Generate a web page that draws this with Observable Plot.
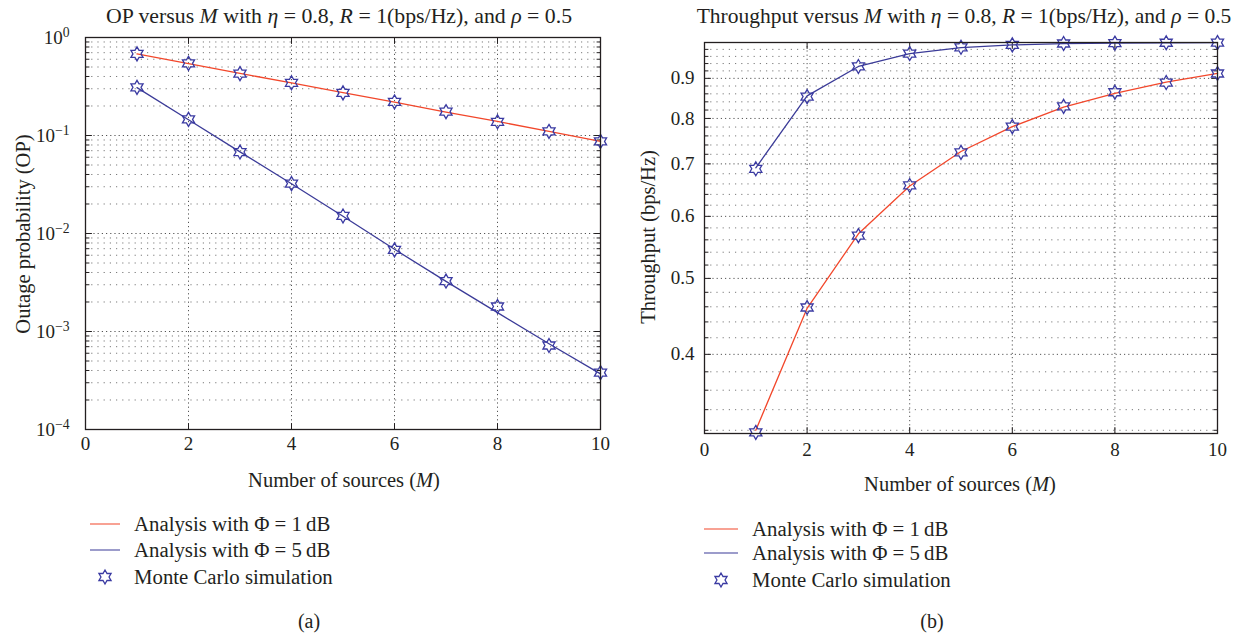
<!DOCTYPE html>
<html>
<head>
<meta charset="utf-8">
<script src="https://cdn.jsdelivr.net/npm/d3@7"></script>
<script src="https://cdn.jsdelivr.net/npm/@observablehq/plot@0.6"></script>
<style>
  html,body{margin:0;padding:0;background:#fff;}
  #root{position:relative;width:1237px;height:636px;overflow:hidden;font-family:"Liberation Serif","Times New Roman",serif;color:#231f20;}
  .t{position:absolute;white-space:nowrap;line-height:1;transform:translate(-50%,-50%);}
  .l{position:absolute;white-space:nowrap;line-height:1;transform:translateY(-50%);}
  .chart{position:absolute;top:0;}
  .swatch{position:absolute;height:0;transform:translateY(-50%);}
</style>
</head>
<body>
<div id="root">
  <div id="chartA" class="chart" style="left:0"></div>
  <div id="chartB" class="chart" style="left:620px"></div>
</div>
<script>
// ---------- data ----------
const M = [1, 2, 3, 4, 5, 6, 7, 8, 9, 10];
// (a) outage probability
const opAnalysis1dB = [0.679, 0.542, 0.430, 0.344, 0.274, 0.219, 0.173, 0.139, 0.110, 0.087];
const opAnalysis5dB = [0.308, 0.145, 0.0680, 0.0322, 0.0150, 0.0069, 0.00325, 0.00156, 0.00075, 0.00037];
const opSim1dB      = [0.680, 0.545, 0.428, 0.345, 0.272, 0.220, 0.175, 0.138, 0.110, 0.087];
const opSim5dB      = [0.310, 0.146, 0.0678, 0.0323, 0.0151, 0.0068, 0.00327, 0.00180, 0.00072, 0.00038];
// (b) throughput
const thAnalysis1dB = [0.320, 0.458, 0.570, 0.656, 0.726, 0.781, 0.827, 0.861, 0.890, 0.913];
const thAnalysis5dB = [0.692, 0.855, 0.932, 0.968, 0.985, 0.993, 0.9967, 0.9984, 0.9992, 0.9996];
const thSim1dB      = [0.318, 0.459, 0.567, 0.657, 0.724, 0.781, 0.829, 0.864, 0.889, 0.913];
const thSim5dB      = [0.690, 0.853, 0.932, 0.968, 0.986, 0.993, 0.997, 0.998, 0.9993, 0.9996];
// ticks
const xTicks = [0, 2, 4, 6, 8, 10];
const xGrid = [2, 4, 6, 8];
const opTicks = [1e-4, 1e-3, 1e-2, 1e-1, 1];
const opMinor = [1e-4, 1e-3, 1e-2, 1e-1].flatMap(d => [2,3,4,5,6,7,8,9].map(k => k * d));
const thTicks = [0.4, 0.5, 0.6, 0.7, 0.8, 0.9];
const thMinor = [0.32,0.34,0.36,0.38,0.42,0.44,0.46,0.48,0.52,0.54,0.56,0.58,0.62,0.64,0.66,0.68,0.72,0.74,0.76,0.78,0.82,0.84,0.86,0.88,0.92,0.94,0.96,0.98];
const legendLabels = ["Analysis with Φ = 1\u2009dB", "Analysis with Φ = 5\u2009dB", "Monte Carlo simulation"];

// ---------- styles ----------
const RED = "#f2472b", BLUE = "#3b3b98", STAR = "#3a3aa2", INK = "#231f20";
const FONT = "'Liberation Serif','Times New Roman',serif";

const hexagram = {
  draw(context, size) {
    const R = Math.sqrt(size / Math.PI), r = R / Math.sqrt(3);
    for (let i = 0; i < 12; i++) {
      const a = Math.PI / 6 * i - Math.PI / 2, rr = i % 2 ? r : R;
      const x = rr * Math.cos(a), y = rr * Math.sin(a);
      i ? context.lineTo(x, y) : context.moveTo(x, y);
    }
    context.closePath();
  }
};
const tickShape = { draw(context, l) { context.moveTo(0, 0); context.lineTo(0, -l); } };

function frameTicks(x0, x1, y0, y1, yMajor, yMinor) {
  const st = { stroke: INK, strokeWidth: 1, shape: tickShape, anchor: "start" };
  const marks = [];
  for (const [xv, rot] of [[x0, 90], [x1, -90]]) {
    marks.push(Plot.vector(yMajor, { x: () => xv, y: d => d, length: 6, rotate: rot, ...st }));
    marks.push(Plot.vector(yMinor, { x: () => xv, y: d => d, length: 3.5, rotate: rot, ...st }));
  }
  for (const [yv, rot] of [[y0, 0], [y1, 180]]) {
    marks.push(Plot.vector(xGrid, { x: d => d, y: () => yv, length: 6, rotate: rot, ...st }));
  }
  return marks;
}
const rows = (ys) => M.map((m, i) => ({ m, v: ys[i] }));

function chart({ width, height, margins, yDomain, yMajor, yMinor, yFmt, yPad, xPad, analysis, sims }) {
  return Plot.plot({
    width, height, ...margins,
    style: { fontFamily: FONT, fontSize: "19px", color: INK, background: "transparent", overflow: "visible" },
    x: { domain: [0, 10], label: null },
    y: { type: "log", domain: yDomain, label: null },
    marks: [
      Plot.ruleY(yMinor, { stroke: "#7a7a7a", strokeWidth: 1, strokeDasharray: "1.2,5" }),
      Plot.ruleY(yMajor, { stroke: "#555", strokeWidth: 1, strokeDasharray: "1.2,3" }),
      Plot.ruleX(xGrid, { stroke: "#555", strokeWidth: 1, strokeDasharray: "1.2,3" }),
      ...frameTicks(0, 10, yDomain[0], yDomain[1], yMajor, yMinor),
      Plot.line(rows(analysis[0]), { x: "m", y: "v", stroke: RED, strokeWidth: 1.3 }),
      Plot.line(rows(analysis[1]), { x: "m", y: "v", stroke: BLUE, strokeWidth: 1.3 }),
      Plot.dot(rows(sims[0]), { x: "m", y: "v", symbol: hexagram, r: 7, stroke: STAR, strokeWidth: 1.3, fill: "none" }),
      Plot.dot(rows(sims[1]), { x: "m", y: "v", symbol: hexagram, r: 7, stroke: STAR, strokeWidth: 1.3, fill: "none" }),
      Plot.axisX({ ticks: xTicks, tickSize: 0, tickPadding: xPad, tickFormat: d => String(d), label: null }),
      Plot.axisY({ ticks: yMajor, tickSize: 0, tickPadding: yPad, tickFormat: yFmt, label: null }),
      Plot.frame({ stroke: INK, strokeWidth: 1.3 })
    ]
  });
}

const svgA = chart({
  width: 620, height: 460,
  margins: { marginLeft: 85, marginRight: 20, marginTop: 37, marginBottom: 31 },
  yDomain: [1e-4, 1], yMajor: opTicks, yMinor: opMinor,
  yFmt: d => "10^" + Math.round(Math.log10(d)), yPad: 16, xPad: 7,
  analysis: [opAnalysis1dB, opAnalysis5dB], sims: [opSim1dB, opSim5dB]
});
const svgB = chart({
  width: 617, height: 465,
  margins: { marginLeft: 84, marginRight: 20, marginTop: 42, marginBottom: 32 },
  yDomain: [0.317, 1], yMajor: thTicks, yMinor: thMinor,
  yFmt: d => d.toFixed(1), yPad: 10, xPad: 9,
  analysis: [thAnalysis1dB, thAnalysis5dB], sims: [thSim1dB, thSim5dB]
});
document.getElementById("chartA").appendChild(svgA);
document.getElementById("chartB").appendChild(svgB);

// superscripts for log tick labels
d3.select(svgA).selectAll("text").each(function () {
  const m = /^10\^(-?\d+)$/.exec(this.textContent);
  if (!m) return;
  const e = +m[1];
  this.textContent = "10";
  d3.select(this).append("tspan").attr("dy", "-0.48em").attr("font-size", "0.72em")
    .text(e < 0 ? "\u2212" + (-e) : String(e));
});

// ---------- text overlays ----------
const root = document.getElementById("root");
function addText(html, cls, style) {
  const d = document.createElement("div");
  d.className = cls; d.innerHTML = html; d.setAttribute("style", style);
  root.appendChild(d); return d;
}
addText("OP versus <i>M</i> with <i>η</i> = 0.8, <i>R</i> = 1(bps/Hz), and <i>ρ</i> = 0.5", "t", "left:339px;top:17px;font-size:21.8px");
addText("Throughput versus <i>M</i> with <i>η</i> = 0.8, <i>R</i> = 1(bps/Hz), and <i>ρ</i> = 0.5", "t", "left:964px;top:17px;font-size:21.5px");
addText("Number of sources (<i>M</i>)", "t", "left:344px;top:480px;font-size:20.5px");
addText("Number of sources (<i>M</i>)", "t", "left:960px;top:484px;font-size:20.5px");
addText("Outage probability (OP)", "t", "left:23px;top:234px;font-size:20.5px;transform:translate(-50%,-50%) rotate(-90deg)");
addText("Throughput (bps/Hz)", "t", "left:648px;top:237px;font-size:20.5px;transform:translate(-50%,-50%) rotate(-90deg)");
addText("(a)", "t", "left:309px;top:621px;font-size:20px");
addText("(b)", "t", "left:932px;top:621px;font-size:20px");

const starPath = d3.symbol().type(hexagram).size(Math.PI * 49)();
function legend(x0, lineW, textX, ys) {
  [RED, BLUE].forEach((c, i) => {
    const s = document.createElement("div");
    s.className = "swatch";
    s.setAttribute("style", `left:${x0}px;top:${ys[i]}px;width:${lineW}px;border-top:1.4px solid ${c}`);
    root.appendChild(s);
  });
  const sv = document.createElementNS("http://www.w3.org/2000/svg", "svg");
  sv.setAttribute("width", 20); sv.setAttribute("height", 20);
  sv.setAttribute("style", `position:absolute;left:${x0 + lineW / 2 - 10}px;top:${ys[2] - 10}px;overflow:visible`);
  const p = document.createElementNS("http://www.w3.org/2000/svg", "path");
  p.setAttribute("d", starPath); p.setAttribute("transform", "translate(10,10)");
  p.setAttribute("fill", "none"); p.setAttribute("stroke", STAR); p.setAttribute("stroke-width", 1.3);
  sv.appendChild(p); root.appendChild(sv);
  legendLabels.forEach((t, i) => addText(t, "l", `left:${textX}px;top:${ys[i]}px;font-size:20.8px`));
}
legend(90, 30, 134, [524, 550, 577]);
legend(704, 34, 752, [529, 553, 580]);
</script>
</body>
</html>
